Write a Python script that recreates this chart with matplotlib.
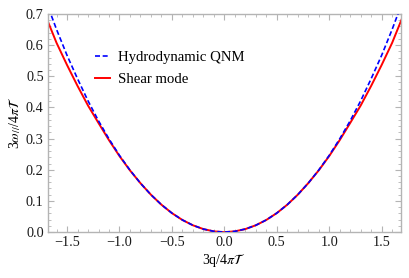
#!/usr/bin/env python3

import numpy as np
import matplotlib
matplotlib.use("Agg")
import matplotlib.pyplot as plt
from matplotlib.ticker import MultipleLocator

plt.rcParams['font.family'] = ['Liberation Serif', 'DejaVu Serif']
plt.rcParams['mathtext.fontset'] = 'stix'

# values (positive half, curves are symmetric)
k_half = np.array([0.0, 0.1, 0.2, 0.3, 0.4, 0.5, 0.6, 0.7, 0.8, 0.9,
                   1.0, 1.1, 1.2, 1.3, 1.4, 1.5, 1.6, 1.7])
hydro_half = np.array([0.0, 0.0025, 0.0098, 0.022, 0.039, 0.061, 0.088, 0.120, 0.157, 0.199,
                       0.246, 0.299, 0.357, 0.421, 0.492, 0.567, 0.650, 0.740])
shear_half = np.array([0.0, 0.0025, 0.0098, 0.022, 0.039, 0.061, 0.088, 0.120, 0.157, 0.198,
                       0.244, 0.295, 0.350, 0.406, 0.469, 0.536, 0.607, 0.690])

k = np.concatenate([-k_half[::-1], k_half[1:]])
hydro = np.concatenate([hydro_half[::-1], hydro_half[1:]])
shear = np.concatenate([shear_half[::-1], shear_half[1:]])

xticks = [-1.5, -1.0, -0.5, 0.0, 0.5, 1.0, 1.5]
yticks = [0.0, 0.1, 0.2, 0.3, 0.4, 0.5, 0.6, 0.7]

fig = plt.figure(figsize=(4.09, 2.78), dpi=100)
ax = fig.add_axes([0.117, 0.165, 0.863, 0.785])

ax.plot(k, hydro, color='blue', ls=(0, (3, 1.6)), lw=1.2, label='Hydrodynamic QNM', zorder=3)
ax.plot(k, shear, color='red', lw=1.4, label='Shear mode', zorder=2)

ax.set_xlim(-1.683, 1.683)
ax.set_ylim(0, 0.7)
ax.set_xticks(xticks)
ax.set_yticks(yticks)
ax.xaxis.set_minor_locator(MultipleLocator(0.1))
ax.yaxis.set_minor_locator(MultipleLocator(0.02))
ax.xaxis.set_major_formatter(matplotlib.ticker.FuncFormatter(lambda v, p: ('\u2212' if v < -1e-9 else '') + '%.1f' % abs(v)))
ax.yaxis.set_major_formatter(matplotlib.ticker.FuncFormatter(lambda v, p: '%.1f' % v))

gray = '#b4b4b4'
for s in ax.spines.values():
    s.set_color(gray)
    s.set_linewidth(1.0)
ax.tick_params(which='both', direction='in', top=True, right=True, color=gray, labelsize=10.3, labelcolor='#1a1a1a')
ax.tick_params(which='major', length=4, width=0.8, pad=3)
ax.tick_params(which='minor', length=2, width=0.6)

ax.set_xlabel(r'3q/4$\pi\mathcal{T}$', fontsize=10, labelpad=2)
ax.set_ylabel(r'3$\omega_{//}$/4$\pi\mathcal{T}$', fontsize=10, labelpad=2)

ax.legend(loc='upper left', bbox_to_anchor=(0.133, 0.83), frameon=False, fontsize=10.6,
          handlelength=1.05, handletextpad=0.55, labelspacing=0.58, borderaxespad=0, borderpad=0)

fig.savefig('out.png', dpi=100)
